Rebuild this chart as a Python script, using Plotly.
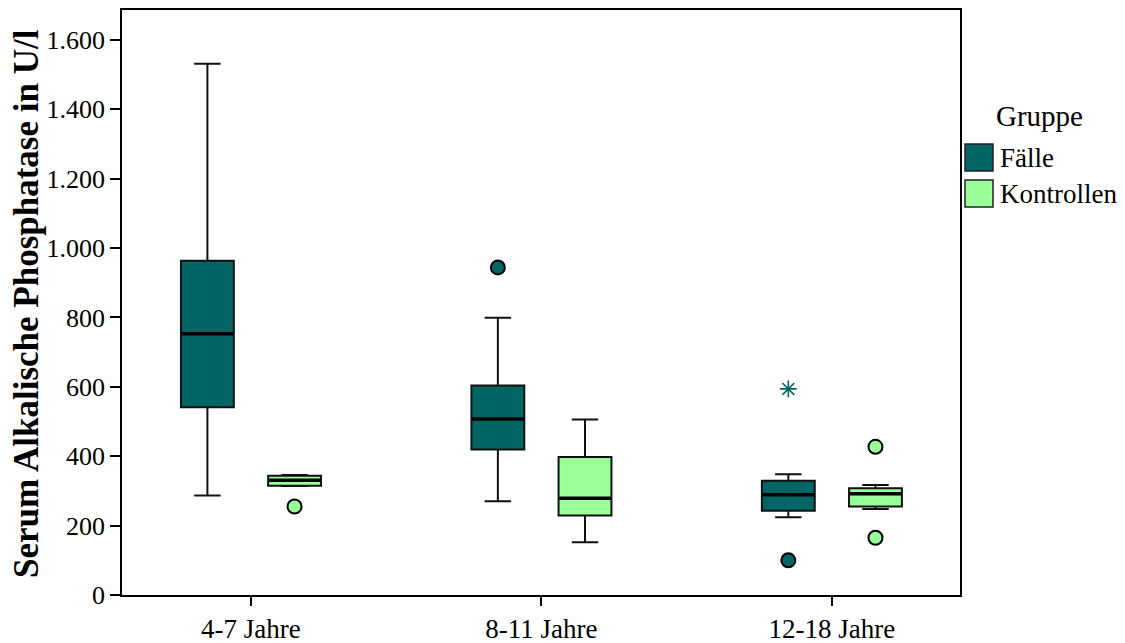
import plotly.graph_objects as go

# Age groups and study groups
categories = ["4-7 Jahre", "8-11 Jahre", "12-18 Jahre"]
groups = ["Fälle", "Kontrollen"]

# Box statistics (U/l) per age group
faelle_lower = [287, 270, 224]
faelle_q1 = [541, 419, 243]
faelle_median = [753, 507, 289]
faelle_q3 = [963, 604, 329]
faelle_upper = [1531, 799, 348]
faelle_outliers = [[], [944], [100]]
faelle_extremes = [[], [], [594]]

kontrollen_lower = [314, 152, 248]
kontrollen_q1 = [315, 229, 255]
kontrollen_median = [331, 279, 292]
kontrollen_q3 = [344, 398, 308]
kontrollen_upper = [346, 506, 317]
kontrollen_outliers = [[255], [], [427, 165]]
kontrollen_extremes = [[], [], []]

y_ticks = [0, 200, 400, 600, 800, 1000, 1200, 1400, 1600]

colors = {"Fälle": "#006563", "Kontrollen": "#99FF99"}
series = {
    "Fälle": dict(lower=faelle_lower, q1=faelle_q1, median=faelle_median,
                  q3=faelle_q3, upper=faelle_upper,
                  outliers=faelle_outliers, extremes=faelle_extremes),
    "Kontrollen": dict(lower=kontrollen_lower, q1=kontrollen_q1,
                       median=kontrollen_median, q3=kontrollen_q3,
                       upper=kontrollen_upper,
                       outliers=kontrollen_outliers,
                       extremes=kontrollen_extremes),
}

offsets = {"Fälle": -0.15, "Kontrollen": 0.15}
box_width = 0.182
FONT = "Liberation Serif"

fig = go.Figure()

for g in groups:
    s = series[g]
    pos = [i + offsets[g] for i in range(len(categories))]
    fig.add_trace(go.Box(
        x=pos, q1=s["q1"], median=s["median"], q3=s["q3"],
        lowerfence=s["lower"], upperfence=s["upper"],
        width=box_width, whiskerwidth=0.5,
        fillcolor=colors[g], line=dict(color="#111111", width=2),
        boxpoints=False, hoverinfo="skip", showlegend=False,
    ))
    # thick median bars
    for p, m in zip(pos, s["median"]):
        fig.add_trace(go.Scatter(
            x=[p - box_width / 2 + 0.003, p + box_width / 2 - 0.003], y=[m, m],
            mode="lines", line=dict(color="black", width=3.5),
            hoverinfo="skip", showlegend=False,
        ))
    # outliers (circles)
    ox, oy = [], []
    for p, vals in zip(pos, s["outliers"]):
        ox += [p] * len(vals)
        oy += vals
    if oy:
        fig.add_trace(go.Scatter(
            x=ox, y=oy, mode="markers",
            marker=dict(symbol="circle", size=14, color=colors[g],
                        line=dict(color="black", width=2)),
            hoverinfo="skip", showlegend=False,
        ))
    # extreme values (asterisks)
    ex, ey = [], []
    for p, vals in zip(pos, s["extremes"]):
        ex += [p] * len(vals)
        ey += vals
    if ey:
        fig.add_trace(go.Scatter(
            x=ex, y=ey, mode="markers",
            marker=dict(symbol="asterisk-open", size=14, color=colors[g],
                        line=dict(color=colors[g], width=1.6)),
            hoverinfo="skip", showlegend=False,
        ))

# plot area geometry in pixels (for legend / title placement)
L, R, T, B = 122, 960, 10, 595


def px_x(px):
    return (px - L) / (R - L)


def px_y(py):
    return (B - py) / (B - T)


shapes = []
annotations = []

# y axis title
annotations.append(dict(
    text="<b>Serum Alkalische Phosphatase in U/l</b>", textangle=-90,
    x=px_x(26), y=px_y(304), xref="paper", yref="paper",
    showarrow=False, font=dict(family=FONT, size=35, color="black"),
    xanchor="center", yanchor="middle",
))

# legend
annotations.append(dict(
    text="Gruppe", x=px_x(994), y=px_y(116), xref="paper", yref="paper",
    showarrow=False, xanchor="left", yanchor="middle",
    font=dict(family=FONT, size=29, color="black"),
))
for k, g in enumerate(groups):
    top = 144 + 36 * k
    shapes.append(dict(
        type="rect", xref="paper", yref="paper",
        x0=px_x(965), x1=px_x(993), y0=px_y(top + 27), y1=px_y(top),
        fillcolor=colors[g], line=dict(color="#222222", width=1.5),
    ))
    annotations.append(dict(
        text=g, x=px_x(998), y=px_y(top + 14), xref="paper", yref="paper",
        showarrow=False, xanchor="left", yanchor="middle",
        font=dict(family=FONT, size=27, color="black"),
    ))

fig.update_layout(
    width=1125, height=643,
    margin=dict(l=L, r=1125 - R, t=T, b=643 - B),
    paper_bgcolor="white", plot_bgcolor="white",
    separators=",.",
    font=dict(family=FONT, size=26, color="black"),
    shapes=shapes, annotations=annotations,
    showlegend=False,
)
fig.update_xaxes(
    range=[-0.444, 2.441], tickvals=list(range(len(categories))),
    ticktext=categories, ticks="outside", ticklen=9, tickwidth=2,
    tickcolor="black", showgrid=False, zeroline=False,
    showline=True, linecolor="black", linewidth=1.5, mirror=True,
    tickfont=dict(family=FONT, size=27), automargin=False,
)
fig.update_yaxes(
    range=[0, 1686], tickvals=y_ticks, tickformat=",d",
    ticks="outside", ticklen=10, tickwidth=2, tickcolor="black",
    showgrid=False, zeroline=False,
    showline=True, linecolor="black", linewidth=1.5, mirror=True,
    tickfont=dict(family=FONT, size=26), automargin=False,
)

fig.write_html("out.html")
